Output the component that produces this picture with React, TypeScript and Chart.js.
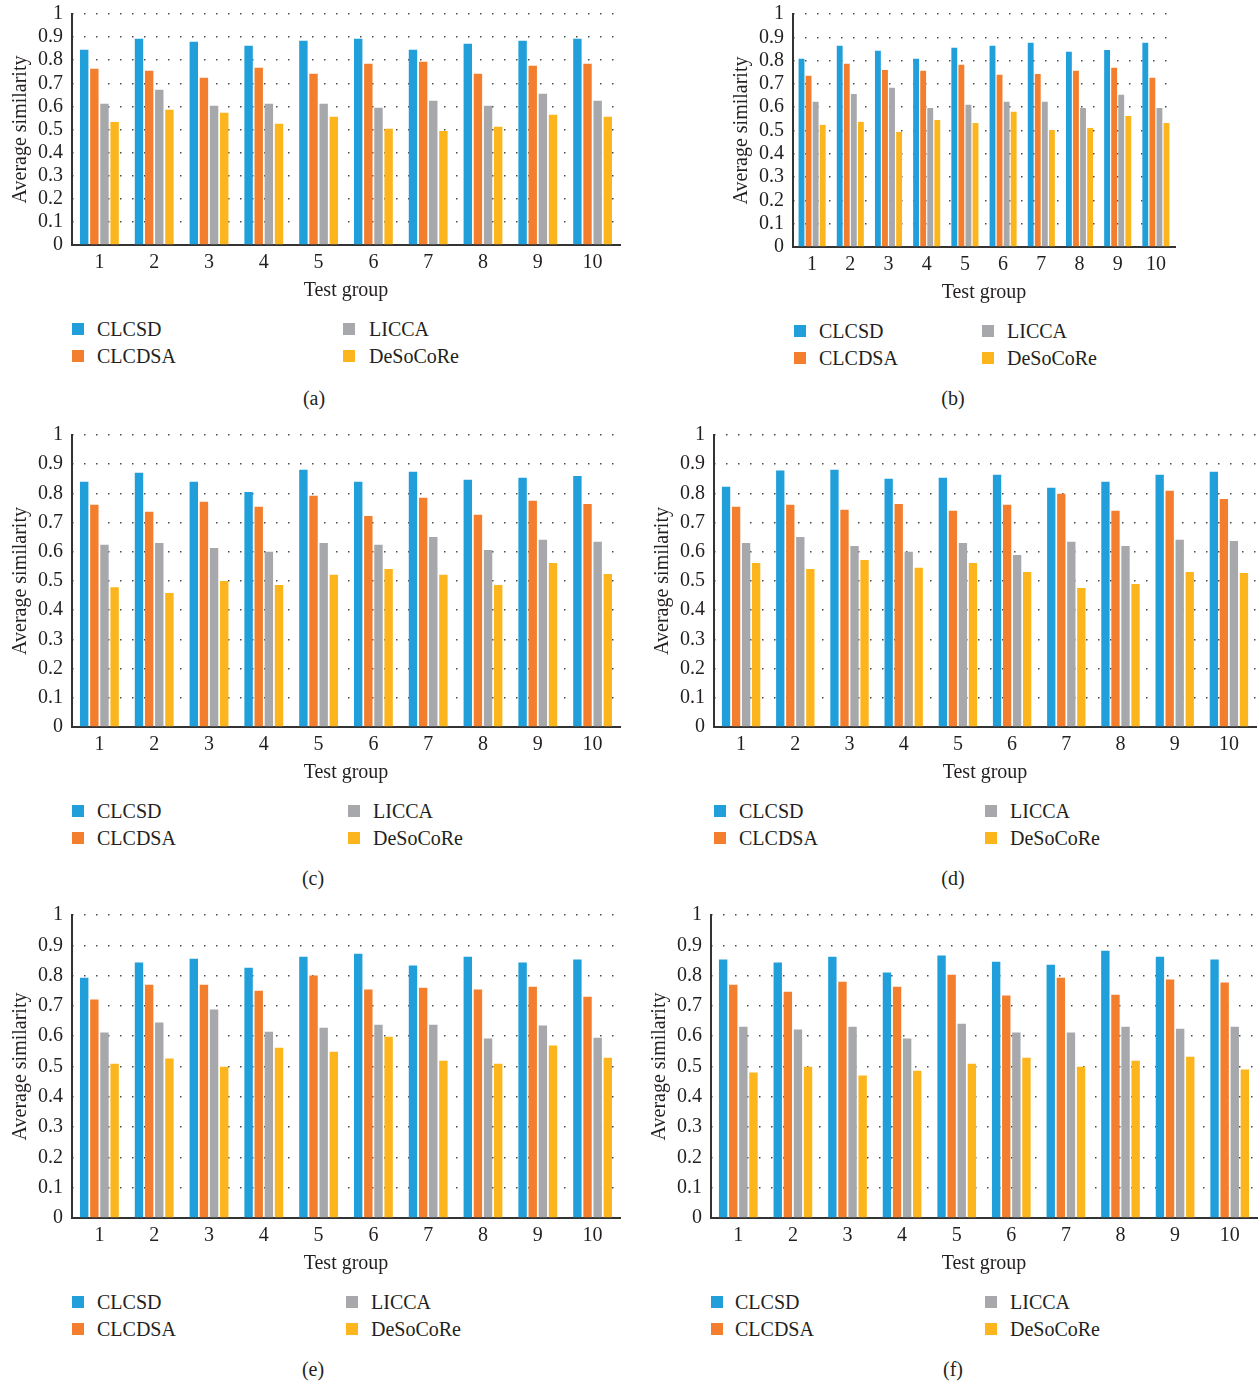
import React, { useEffect, useRef } from "react";
import { Chart, registerables } from "chart.js";

Chart.register(...registerables);

// ---------- data ----------
const categories = ["1", "2", "3", "4", "5", "6", "7", "8", "9", "10"];
const seriesNames = ["CLCSD", "CLCDSA", "LICCA", "DeSoCoRe"];
const yTickLabels = ["0", "0.1", "0.2", "0.3", "0.4", "0.5", "0.6", "0.7", "0.8", "0.9", "1"];
const xTitle = "Test group";
const yTitle = "Average similarity";

const aCLCSD = [0.845, 0.893, 0.88, 0.863, 0.884, 0.893, 0.845, 0.871, 0.884, 0.893];
const aCLCDSA = [0.763, 0.754, 0.724, 0.767, 0.741, 0.785, 0.793, 0.741, 0.776, 0.785];
const aLICCA = [0.611, 0.672, 0.603, 0.611, 0.611, 0.594, 0.624, 0.603, 0.655, 0.624];
const aDeSoCoRe = [0.533, 0.585, 0.572, 0.525, 0.555, 0.503, 0.494, 0.512, 0.564, 0.555];

const bCLCSD = [0.808, 0.864, 0.842, 0.808, 0.855, 0.864, 0.877, 0.838, 0.846, 0.877];
const bCLCDSA = [0.735, 0.786, 0.76, 0.756, 0.782, 0.739, 0.743, 0.756, 0.769, 0.726];
const bLICCA = [0.623, 0.657, 0.683, 0.597, 0.61, 0.623, 0.623, 0.597, 0.653, 0.597];
const bDeSoCoRe = [0.524, 0.537, 0.494, 0.545, 0.532, 0.58, 0.502, 0.511, 0.562, 0.532];

const cCLCSD = [0.84, 0.871, 0.84, 0.805, 0.881, 0.84, 0.874, 0.847, 0.854, 0.86];
const cCLCDSA = [0.761, 0.737, 0.771, 0.754, 0.792, 0.723, 0.785, 0.727, 0.775, 0.764];
const cLICCA = [0.624, 0.63, 0.613, 0.6, 0.63, 0.624, 0.651, 0.606, 0.641, 0.634];
const cDeSoCoRe = [0.479, 0.459, 0.5, 0.486, 0.521, 0.541, 0.521, 0.486, 0.562, 0.524];

const dCLCSD = [0.823, 0.878, 0.881, 0.85, 0.854, 0.864, 0.819, 0.84, 0.864, 0.874];
const dCLCDSA = [0.754, 0.761, 0.744, 0.764, 0.741, 0.761, 0.799, 0.741, 0.809, 0.781];
const dLICCA = [0.63, 0.651, 0.62, 0.6, 0.63, 0.589, 0.634, 0.62, 0.641, 0.637];
const dDeSoCoRe = [0.562, 0.541, 0.572, 0.545, 0.562, 0.531, 0.476, 0.49, 0.531, 0.527];

const eCLCSD = [0.793, 0.843, 0.856, 0.826, 0.862, 0.872, 0.833, 0.862, 0.843, 0.853];
const eCLCDSA = [0.721, 0.77, 0.77, 0.75, 0.8, 0.754, 0.76, 0.754, 0.763, 0.73];
const eLICCA = [0.612, 0.645, 0.688, 0.615, 0.628, 0.638, 0.638, 0.592, 0.635, 0.595];
const eDeSoCoRe = [0.509, 0.526, 0.499, 0.562, 0.549, 0.598, 0.519, 0.509, 0.569, 0.529];

const fCLCSD = [0.853, 0.843, 0.862, 0.81, 0.866, 0.846, 0.836, 0.882, 0.862, 0.853];
const fCLCDSA = [0.77, 0.747, 0.78, 0.763, 0.803, 0.734, 0.793, 0.737, 0.787, 0.777];
const fLICCA = [0.631, 0.622, 0.631, 0.592, 0.641, 0.612, 0.612, 0.631, 0.625, 0.631];
const fDeSoCoRe = [0.48, 0.499, 0.47, 0.486, 0.509, 0.529, 0.499, 0.519, 0.532, 0.49];

// ---------- styles / layout ----------
const seriesColors = ["#209FDB", "#F37F2E", "#A7A8AC", "#FDB51D"];
const FONT = "'Liberation Serif', 'Times New Roman', serif";
const TEXT = "#231f20";
const PAGE_W = 1258;
const PAGE_H = 1384;
const Y_AXIS_W = 72;
const PAD_TOP = 24;
const X_AXIS_H = 60;

const panels = [
  { cap: "(a)", series: [aCLCSD, aCLCDSA, aLICCA, aDeSoCoRe], x0: 72, x1: 620, y0: 14, y1: 245, lx: [72, 343], tx: [97, 369], capX: 314, capY: 398 },
  { cap: "(b)", series: [bCLCSD, bCLCDSA, bLICCA, bDeSoCoRe], x0: 793, x1: 1175, y0: 14, y1: 247, lx: [794, 982], tx: [819, 1007], capX: 953, capY: 398 },
  { cap: "(c)", series: [cCLCSD, cCLCDSA, cLICCA, cDeSoCoRe], x0: 72, x1: 620, y0: 435, y1: 727, lx: [72, 348], tx: [97, 373], capX: 313, capY: 878 },
  { cap: "(d)", series: [dCLCSD, dCLCDSA, dLICCA, dDeSoCoRe], x0: 714, x1: 1256, y0: 435, y1: 727, lx: [714, 985], tx: [739, 1010], capX: 953, capY: 878 },
  { cap: "(e)", series: [eCLCSD, eCLCDSA, eLICCA, eDeSoCoRe], x0: 72, x1: 620, y0: 915, y1: 1218, lx: [72, 346], tx: [97, 371], capX: 313, capY: 1369 },
  { cap: "(f)", series: [fCLCSD, fCLCDSA, fLICCA, fDeSoCoRe], x0: 711, x1: 1257, y0: 915, y1: 1218, lx: [711, 985], tx: [735, 1010], capX: 953, capY: 1369 },
];

type PanelDef = (typeof panels)[number];

function BarPanel({ p }: { p: PanelDef }) {
  const ref = useRef<HTMLCanvasElement | null>(null);
  const padR = Math.max(0, Math.min(4, PAGE_W - p.x1));
  const left = p.x0 - Y_AXIS_W;
  const top = p.y0 - PAD_TOP;
  const width = p.x1 - p.x0 + Y_AXIS_W + padR;
  const height = p.y1 - p.y0 + PAD_TOP + X_AXIS_H;

  useEffect(() => {
    if (!ref.current) return;
    const font = { family: FONT, size: 20 };
    const chart = new Chart(ref.current, {
      type: "bar",
      data: {
        labels: categories,
        datasets: seriesNames.map((name, i) => ({
          label: name,
          data: p.series[i],
          backgroundColor: seriesColors[i],
          borderWidth: 0,
          categoryPercentage: 0.74,
          barPercentage: 0.83,
        })),
      },
      options: {
        responsive: false,
        animation: false,
        devicePixelRatio: 1,
        layout: { padding: { top: PAD_TOP, right: padR, left: 0, bottom: 0 } },
        plugins: { legend: { display: false }, tooltip: { enabled: false } },
        scales: {
          x: {
            type: "category",
            offset: true,
            z: 1,
            grid: { display: false, drawTicks: false },
            border: { display: true, color: "#333", width: 2 },
            ticks: { color: TEXT, font, padding: 6, maxRotation: 0, autoSkip: false },
            title: { display: true, text: xTitle, color: TEXT, font, padding: { top: 0, bottom: 2 } },
            afterFit: (s: any) => {
              s.height = X_AXIS_H;
            },
          },
          y: {
            type: "linear",
            min: 0,
            max: 1,
            grid: { color: "#4a4a4a", lineWidth: 1.5, drawTicks: false },
            border: { display: true, color: "#333", width: 2, dash: [1.5, 10.5], dashOffset: 1 },
            ticks: {
              stepSize: 0.1,
              autoSkip: false,
              padding: 9,
              color: TEXT,
              font,
              callback: (_v: any, i: number) => yTickLabels[i],
            },
            title: { display: true, text: yTitle, color: TEXT, font, padding: { top: 9, bottom: 0 } },
            afterFit: (s: any) => {
              s.width = Y_AXIS_W;
            },
          },
        },
      } as any,
    });
    return () => chart.destroy();
  }, []);

  const rowY = [p.y1 + 84, p.y1 + 111];
  const items = seriesNames.map((name, i) => ({
    name,
    color: seriesColors[i],
    col: i < 2 ? 0 : 1,
    row: i % 2,
  }));

  return (
    <>
      <canvas
        ref={ref}
        width={width}
        height={height}
        style={{ position: "absolute", left, top, width, height }}
      />
      {items.map((it) => (
        <React.Fragment key={it.name}>
          <div
            style={{
              position: "absolute",
              left: p.lx[it.col],
              top: rowY[it.row] - 6,
              width: 12,
              height: 12,
              background: it.color,
            }}
          />
          <div
            style={{
              position: "absolute",
              left: p.tx[it.col],
              top: rowY[it.row] - 10,
              height: 20,
              lineHeight: "20px",
              fontFamily: FONT,
              fontSize: 20,
              color: TEXT,
              whiteSpace: "nowrap",
            }}
          >
            {it.name}
          </div>
        </React.Fragment>
      ))}
      <div
        style={{
          position: "absolute",
          left: p.capX - 30,
          width: 60,
          top: p.capY - 10,
          height: 20,
          lineHeight: "20px",
          textAlign: "center",
          fontFamily: FONT,
          fontSize: 20,
          color: TEXT,
        }}
      >
        {p.cap}
      </div>
    </>
  );
}

export default function App() {
  return (
    <div
      style={{
        position: "absolute",
        left: 0,
        top: 0,
        width: PAGE_W,
        height: PAGE_H,
        overflow: "hidden",
        background: "#ffffff",
      }}
    >
      {panels.map((p) => (
        <BarPanel key={p.cap} p={p} />
      ))}
    </div>
  );
}
